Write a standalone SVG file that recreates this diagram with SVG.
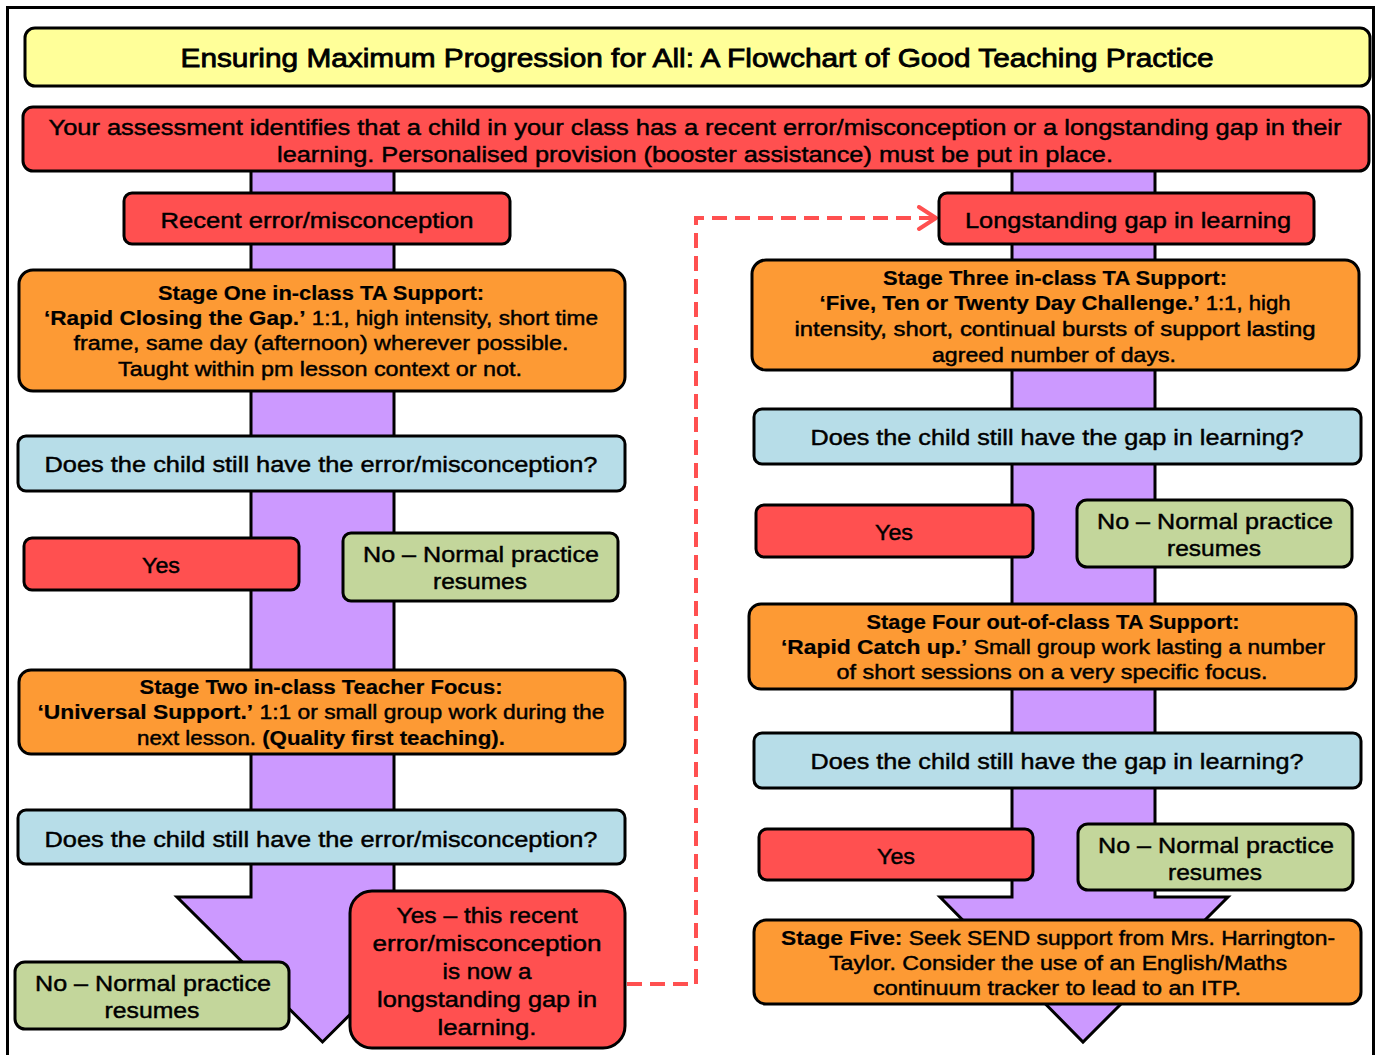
<svg xmlns="http://www.w3.org/2000/svg" width="1379" height="1055" viewBox="0 0 1379 1055">
<defs>
<style>
.box{stroke:#000;stroke-width:3}
.yel{fill:#FFFF99}.red{fill:#FF5050}.org{fill:#FD9A34}.blu{fill:#B7DDE8}.grn{fill:#C3D69B}
.arrow{fill:#CC99FF;stroke:#000;stroke-width:3;stroke-linejoin:miter}
text{font-family:"Liberation Sans",Arial,sans-serif;fill:#000;stroke:#000;stroke-width:0.45;text-anchor:middle}
.t26{font-size:26px;stroke-width:0.8}
.t22{font-size:22px}
.t20{font-size:20px}
.b{font-weight:bold;stroke-width:0.2}
.dash{fill:none;stroke:#FF5050;stroke-width:4;stroke-dasharray:15 8}
</style>
<marker id="chev" markerUnits="userSpaceOnUse" markerWidth="24" markerHeight="30" refX="20" refY="13" orient="auto">
<path d="M3,2 L20,13 L3,24" fill="none" stroke="#FF5050" stroke-width="4" stroke-linecap="round" stroke-linejoin="round"/>
</marker>
</defs>
<rect x="0" y="0" width="1379" height="1055" fill="#fff"/>
<rect x="7.5" y="7.5" width="1366" height="1070" fill="none" stroke="#000" stroke-width="3"/>

<g id="connectors">
<polygon class="arrow" points="251,160 394,160 394,897 468,897 322.5,1042 177,897 251,897"/>
<polygon class="arrow" points="1012,160 1155,160 1155,897 1228,897 1083,1042 940,897 1012,897"/>
<path class="dash" d="M627,984 H696 V218 H936" marker-end="url(#chev)"/>
</g>

<g id="title">
<rect class="box yel" x="25" y="28" width="1345" height="58" rx="10"/>
<text class="t26" x="697" y="67" textLength="1033" lengthAdjust="spacingAndGlyphs">Ensuring Maximum Progression for All: A Flowchart of Good Teaching Practice</text>
</g>

<g id="assessment">
<rect class="box red" x="23" y="107" width="1346" height="64" rx="10"/>
<text class="t22" x="695" y="135" textLength="1293" lengthAdjust="spacingAndGlyphs">Your assessment identifies that a child in your class has a recent error/misconception or a longstanding gap in their</text>
<text class="t22" x="695" y="162" textLength="836" lengthAdjust="spacingAndGlyphs">learning. Personalised provision (booster assistance) must be put in place.</text>
</g>

<g id="recent">
<rect class="box red" x="124" y="193" width="386" height="51" rx="8"/>
<text class="t22" x="317" y="228" textLength="313" lengthAdjust="spacingAndGlyphs">Recent error/misconception</text>
</g>

<g id="stage1">
<rect class="box org" x="19" y="270" width="606" height="121" rx="14"/>
<text class="t20 b" x="321" y="300" textLength="326" lengthAdjust="spacingAndGlyphs">Stage One in-class TA Support:</text>
<text class="t20" x="321" y="325" textLength="554" lengthAdjust="spacingAndGlyphs"><tspan class="b">‘Rapid Closing the Gap.’</tspan> 1:1, high intensity, short time</text>
<text class="t20" x="321" y="350" textLength="495" lengthAdjust="spacingAndGlyphs">frame, same day (afternoon) wherever possible.</text>
<text class="t20" x="320" y="376" textLength="404" lengthAdjust="spacingAndGlyphs">Taught within pm lesson context or not.</text>
</g>

<g id="q1">
<rect class="box blu" x="18" y="436" width="607" height="55" rx="8"/>
<text class="t22" x="321" y="472" textLength="553" lengthAdjust="spacingAndGlyphs">Does the child still have the error/misconception?</text>
</g>

<g id="yes1">
<rect class="box red" x="24" y="538" width="275" height="52" rx="8"/>
<text class="t22" x="161" y="573" textLength="38" lengthAdjust="spacingAndGlyphs">Yes</text>
</g>

<g id="no1">
<rect class="box grn" x="343" y="533" width="275" height="68" rx="8"/>
<text class="t22" x="481" y="562" textLength="236" lengthAdjust="spacingAndGlyphs">No – Normal practice</text>
<text class="t22" x="480" y="589" textLength="94" lengthAdjust="spacingAndGlyphs">resumes</text>
</g>

<g id="stage2">
<rect class="box org" x="19" y="670" width="606" height="84" rx="12"/>
<text class="t20 b" x="321" y="694" textLength="363" lengthAdjust="spacingAndGlyphs">Stage Two in-class Teacher Focus:</text>
<text class="t20" x="321" y="719" textLength="567" lengthAdjust="spacingAndGlyphs"><tspan class="b">‘Universal Support.’</tspan> 1:1 or small group work during the</text>
<text class="t20" x="321" y="745" textLength="368" lengthAdjust="spacingAndGlyphs">next lesson. <tspan class="b">(Quality first teaching).</tspan></text>
</g>

<g id="q2">
<rect class="box blu" x="18" y="810" width="607" height="54" rx="8"/>
<text class="t22" x="321" y="847" textLength="553" lengthAdjust="spacingAndGlyphs">Does the child still have the error/misconception?</text>
</g>

<g id="no2">
<rect class="box grn" x="15" y="962" width="274" height="67" rx="10"/>
<text class="t22" x="153" y="991" textLength="236" lengthAdjust="spacingAndGlyphs">No – Normal practice</text>
<text class="t22" x="152" y="1018" textLength="95" lengthAdjust="spacingAndGlyphs">resumes</text>
</g>

<g id="yes2">
<rect class="box red" x="350" y="891" width="275" height="157" rx="22"/>
<text class="t22" x="487" y="923" textLength="181" lengthAdjust="spacingAndGlyphs">Yes – this recent</text>
<text class="t22" x="487" y="951" textLength="229" lengthAdjust="spacingAndGlyphs">error/misconception</text>
<text class="t22" x="487" y="979" textLength="89" lengthAdjust="spacingAndGlyphs">is now a</text>
<text class="t22" x="487" y="1007" textLength="220" lengthAdjust="spacingAndGlyphs">longstanding gap in</text>
<text class="t22" x="487" y="1035" textLength="99" lengthAdjust="spacingAndGlyphs">learning.</text>
</g>

<g id="longstanding">
<rect class="box red" x="939" y="193" width="375" height="51" rx="8"/>
<text class="t22" x="1128" y="228" textLength="326" lengthAdjust="spacingAndGlyphs">Longstanding gap in learning</text>
</g>

<g id="stage3">
<rect class="box org" x="752" y="260" width="607" height="110" rx="14"/>
<text class="t20 b" x="1055" y="285" textLength="344" lengthAdjust="spacingAndGlyphs">Stage Three in-class TA Support:</text>
<text class="t20" x="1055" y="310" textLength="471" lengthAdjust="spacingAndGlyphs"><tspan class="b">‘Five, Ten or Twenty Day Challenge.’</tspan> 1:1, high</text>
<text class="t20" x="1055" y="336" textLength="521" lengthAdjust="spacingAndGlyphs">intensity, short, continual bursts of support lasting</text>
<text class="t20" x="1054" y="362" textLength="244" lengthAdjust="spacingAndGlyphs">agreed number of days.</text>
</g>

<g id="q3">
<rect class="box blu" x="754" y="409" width="607" height="55" rx="8"/>
<text class="t22" x="1057" y="445" textLength="493" lengthAdjust="spacingAndGlyphs">Does the child still have the gap in learning?</text>
</g>

<g id="yes3">
<rect class="box red" x="756" y="505" width="277" height="52" rx="8"/>
<text class="t22" x="894" y="540" textLength="38" lengthAdjust="spacingAndGlyphs">Yes</text>
</g>

<g id="no3">
<rect class="box grn" x="1077" y="500" width="275" height="67" rx="10"/>
<text class="t22" x="1215" y="529" textLength="236" lengthAdjust="spacingAndGlyphs">No – Normal practice</text>
<text class="t22" x="1214" y="556" textLength="94" lengthAdjust="spacingAndGlyphs">resumes</text>
</g>

<g id="stage4">
<rect class="box org" x="749" y="604" width="607" height="85" rx="12"/>
<text class="t20 b" x="1053" y="629" textLength="373" lengthAdjust="spacingAndGlyphs">Stage Four out-of-class TA Support:</text>
<text class="t20" x="1053" y="654" textLength="544" lengthAdjust="spacingAndGlyphs"><tspan class="b">‘Rapid Catch up.’</tspan> Small group work lasting a number</text>
<text class="t20" x="1052" y="679" textLength="431" lengthAdjust="spacingAndGlyphs">of short sessions on a very specific focus.</text>
</g>

<g id="q4">
<rect class="box blu" x="754" y="733" width="607" height="55" rx="8"/>
<text class="t22" x="1057" y="769" textLength="493" lengthAdjust="spacingAndGlyphs">Does the child still have the gap in learning?</text>
</g>

<g id="yes4">
<rect class="box red" x="759" y="829" width="274" height="51" rx="8"/>
<text class="t22" x="896" y="864" textLength="38" lengthAdjust="spacingAndGlyphs">Yes</text>
</g>

<g id="no4">
<rect class="box grn" x="1078" y="824" width="275" height="66" rx="10"/>
<text class="t22" x="1216" y="853" textLength="236" lengthAdjust="spacingAndGlyphs">No – Normal practice</text>
<text class="t22" x="1215" y="880" textLength="94" lengthAdjust="spacingAndGlyphs">resumes</text>
</g>

<g id="stage5">
<rect class="box org" x="754" y="920" width="607" height="84" rx="12"/>
<text class="t20" x="1058" y="945" textLength="554" lengthAdjust="spacingAndGlyphs"><tspan class="b">Stage Five:</tspan> Seek SEND support from Mrs. Harrington-</text>
<text class="t20" x="1058" y="970" textLength="458" lengthAdjust="spacingAndGlyphs">Taylor. Consider the use of an English/Maths</text>
<text class="t20" x="1057" y="995" textLength="368" lengthAdjust="spacingAndGlyphs">continuum tracker to lead to an ITP.</text>
</g>
</svg>
